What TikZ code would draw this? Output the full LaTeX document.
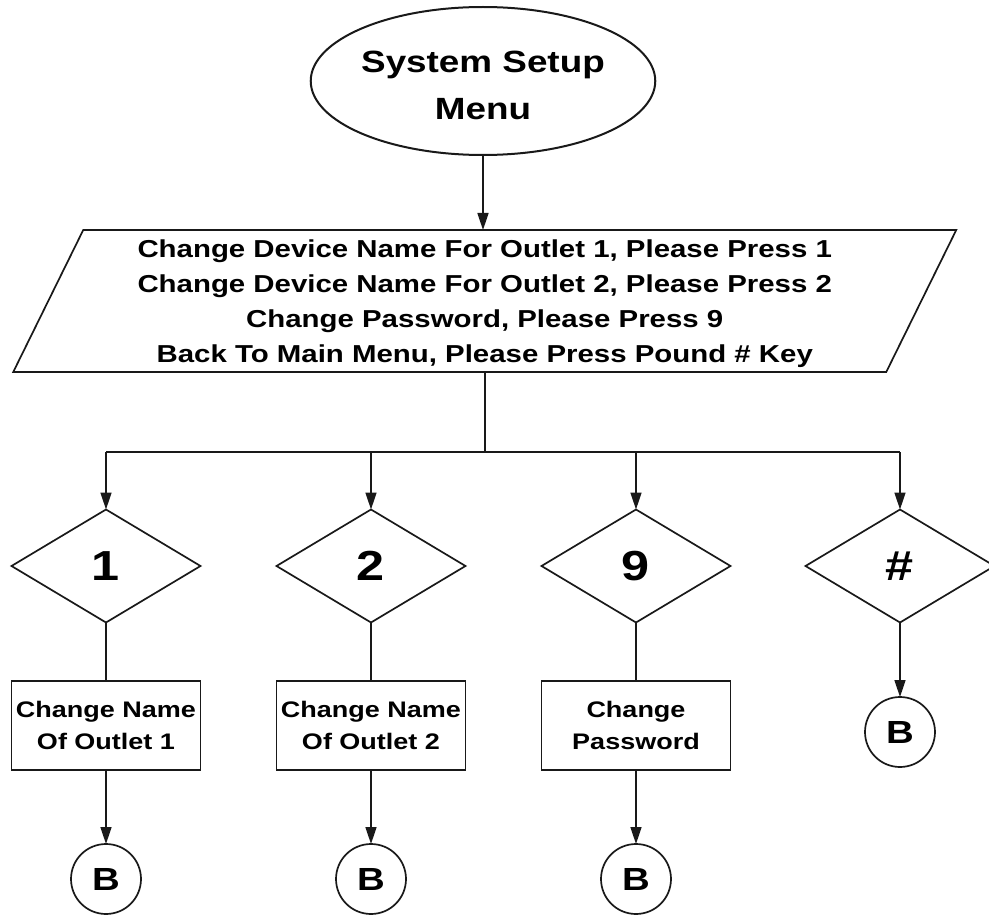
\documentclass[tikz,border=0pt]{standalone}
\usepackage{fontspec}
\setmainfont{Liberation Sans}[FakeStretch=1.2]
\usetikzlibrary{shapes.geometric,arrows.meta}
\begin{document}
\begin{tikzpicture}[x=1pt,y=-1pt,
  every node/.style={inner sep=0pt,outer sep=0pt},
  ln/.style={line width=1.7pt,draw=black!90},
  arr/.style={ln,-{Triangle[length=17pt,width=11pt]}},
  startnode/.style={ellipse,ln,line width=2pt,minimum width=310pt,minimum height=148pt,align=center,
    font=\fontsize{30.7}{47}\selectfont\bfseries},
  menunode/.style={minimum width=873pt,minimum height=142pt,align=center,
    font=\fontsize{24.5}{35}\selectfont\bfseries},
  choice/.style={diamond,ln,minimum width=189pt,minimum height=113pt,
    font=\fontsize{42}{50}\selectfont\bfseries},
  actbox/.style={rectangle,ln,minimum width=189pt,minimum height=89pt,align=center,
    font=\fontsize{22.5}{32}\selectfont\bfseries},
  conn/.style={circle,ln,minimum size=70pt,font=\fontsize{32}{38}\selectfont\bfseries}
]
\useasboundingbox (0,0) rectangle (989,915);

\node[startnode] (start) at (483,81) {\rule{0pt}{31pt}System Setup\\Menu};
\node[menunode] (menu) at (484.75,301) {\rule{0pt}{24pt}Change Device Name For Outlet 1, Please Press 1\\
Change Device Name For Outlet 2, Please Press 2\\
Change Password, Please Press 9\\
Back To Main Menu, Please Press Pound \# Key};
\draw[ln,line join=miter] ([xshift=35pt]menu.north west) -- ([xshift=35pt]menu.north east)
  -- ([xshift=-35pt]menu.south east) -- ([xshift=-35pt]menu.south west) -- cycle;

\node[choice] (d1) at (106,566) {1};
\node[choice] (d2) at (371,566) {2};
\node[choice] (d3) at (636,566) {9};
\node[choice] (d4) at (900,566) {\#};

\node[actbox] (r1) at (106,725.5) {Change Name\\Of Outlet 1};
\node[actbox] (r2) at (371,725.5) {Change Name\\Of Outlet 2};
\node[actbox] (r3) at (636,725.5) {Change\\Password};

\node[conn] (c1) at (106,879) {B};
\node[conn] (c2) at (371,879) {B};
\node[conn] (c3) at (636,879) {B};
\node[conn] (c4) at (900,732) {B};

\coordinate (bus) at (484.75,452);

\draw[arr] (start.south) -- (start.south |- menu.north);
\draw[ln] (menu.south) -- (bus);
\draw[ln] (d1.north |- bus) -- (d4.north |- bus);
\foreach \d in {d1,d2,d3,d4} \draw[arr] (\d.north |- bus) -- (\d.north);

\draw[ln] (d1.south) -- (r1.north);
\draw[ln] (d2.south) -- (r2.north);
\draw[ln] (d3.south) -- (r3.north);
\draw[arr] (r1.south) -- (c1.north);
\draw[arr] (r2.south) -- (c2.north);
\draw[arr] (r3.south) -- (c3.north);
\draw[arr] (d4.south) -- (c4.north);
\end{tikzpicture}
\end{document}
